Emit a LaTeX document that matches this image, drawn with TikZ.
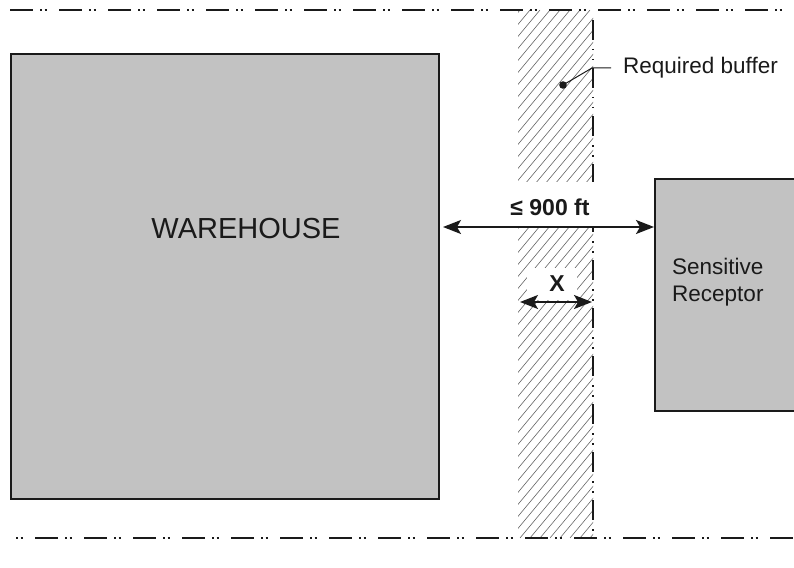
\documentclass[tikz,border=0pt]{standalone}
\usepackage{fontspec}
\setmainfont{Liberation Sans}
\usetikzlibrary{arrows.meta,calc}
\definecolor{bldgray}{HTML}{C2C2C2}
\definecolor{ink}{HTML}{1A1A1A}
\definecolor{hatchgray}{HTML}{666666}
\tikzset{
  building/.style={draw=ink, fill=bldgray, anchor=north west, inner sep=0pt},
  propline/.style={draw=ink, line width=2.6pt,
    dash pattern=on 23pt off 7pt on 2pt off 2.5pt on 2pt off 12.5pt},
  bufline/.style={draw=ink, line width=2.2pt,
    dash pattern=on 20pt off 9pt on 1.5pt off 8.5pt on 1.5pt off 7.5pt},
  hatchline/.style={draw=hatchgray, line width=0.6pt},
  dimarrow/.style={draw=ink, line width=1.4pt,
    {Stealth[length=18pt,width=14pt,inset=4pt]}-{Stealth[length=18pt,width=14pt,inset=4pt]}},
  whitegap/.style={fill=white, draw=none, inner sep=0pt},
  lbl/.style={text=ink, font=\fontsize{22.5}{27}\selectfont, inner sep=0pt},
  boldlbl/.style={text=ink, font=\fontsize{23}{27}\selectfont\bfseries, inner sep=0pt}
}
\begin{document}
\begin{tikzpicture}[x=1pt,y=-1pt]
\useasboundingbox (0,0) rectangle (794,567);

% buffer hatching
\begin{scope}
  \clip (518,10) rectangle (593,538);
  \foreach \x in {70,80,...,600} {
    \draw[hatchline] (\x,538) -- ({\x+440},10);
  }
\end{scope}

% property lines
\coordinate (pt1) at (10,10);
\coordinate (pt2) at (794,10);
\draw[propline] (pt1) -- (pt2);
\coordinate (pb1) at (14,538);
\coordinate (pb2) at (794,538);
\draw[propline, dash phase=28pt] (pb1) -- (pb2);

% buffer boundary line
\coordinate (bv1) at (593,20);
\coordinate (bv2) at (593,536);
\draw[bufline] (bv1) -- (bv2);

% buildings
\node[building, line width=2pt, minimum width=428pt, minimum height=445pt] (warehouse) at (10,53) {};
\node[text=ink, font=\fontsize{29}{34}\selectfont, inner sep=0pt] (whlabel) at (246,229) {WAREHOUSE};
\node[building, line width=1.6pt, minimum width=150pt, minimum height=232pt] (receptor) at (654,178) {};
\node[lbl, anchor=north west, align=left] (rlabel) at (672,258) {Sensitive\\Receptor};

% distance label and arrow
\node[whitegap, minimum width=92pt, minimum height=44pt] (gap900) at (555,204) {};
\node[boldlbl] (lbl900) at (550,207) {≤ 900 ft};
\coordinate (d1) at (443,227);
\draw[dimarrow] (d1) -- (d1 -| receptor.west);

% buffer width label and arrow
\node[whitegap, minimum width=50pt, minimum height=32pt] (gapx) at (552,284) {};
\node[boldlbl] (lblx) at (557,284) {X};
\coordinate (x1) at (520,302);
\coordinate (x2) at (592,302);
\draw[dimarrow] (x1) -- (x2);

% leader to required buffer
\coordinate (dot) at (563,85);
\fill[ink] (dot) circle (3.8pt);
\node[lbl, anchor=west] (buflabel) at (623,68) {Required buffer};
\coordinate (lk) at (592,68);
\draw[ink, line width=1pt] (dot) -- (lk) -- ($(buflabel.west)+(-12,0)$);
\end{tikzpicture}
\end{document}
